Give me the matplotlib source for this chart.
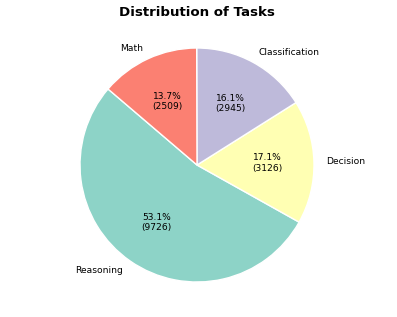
import matplotlib.pyplot as plt

# task counts per category
labels = ['Reasoning', 'Decision', 'Classification', 'Math']
counts = [9726, 3126, 2945, 2509]
colors = ['#8dd3c7', '#ffffb3', '#bebada', '#fb8072']

total = sum(counts)


def fmt(pct):
    n = int(round(pct * total / 100.0))
    return '{:.1f}%\n({:d})'.format(pct, n)


fig = plt.figure(figsize=(3.97, 3.17), dpi=100)
W, H = 397, 317
cx, cy, r = 197, 165, 117
half = 1.25 * r
ax = fig.add_axes([(cx - half) / W, (H - cy - half) / H, 2 * half / W, 2 * half / H])

wedges, texts, autotexts = ax.pie(
    counts, labels=labels, colors=colors, autopct=fmt, startangle=139.5,
    wedgeprops=dict(edgecolor='white', linewidth=1),
    textprops=dict(fontsize=6.6))
ax.set_xlim(-1.25, 1.25)
ax.set_ylim(-1.25, 1.25)

fig.text(cx / W, 1 - 12 / H, 'Distribution of Tasks', ha='center', va='center',
         fontsize=9.6, fontweight='bold')

plt.savefig('out.png')
